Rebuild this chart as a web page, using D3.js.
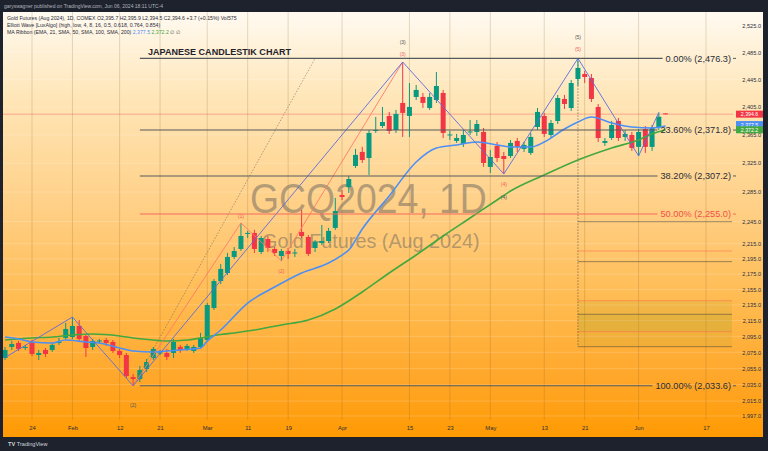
<!DOCTYPE html>
<html><head><meta charset="utf-8">
<script src="https://cdn.jsdelivr.net/npm/d3@7"></script>
<style>
html,body{margin:0;padding:0;background:#1e222d;}
svg{display:block;font-family:"Liberation Sans",Arial,sans-serif;}
</style></head><body>
<svg id="c" width="768" height="451"></svg>
<script>
// ---------- DATA ----------
const candleDates = ["2024-01-18","2024-01-19","2024-01-22","2024-01-23","2024-01-24","2024-01-25","2024-01-26","2024-01-29","2024-01-30","2024-01-31",
"2024-02-01","2024-02-02","2024-02-05","2024-02-06","2024-02-07","2024-02-08","2024-02-09","2024-02-12","2024-02-13","2024-02-14","2024-02-15","2024-02-16","2024-02-20","2024-02-21","2024-02-22","2024-02-23","2024-02-26","2024-02-27","2024-02-28","2024-02-29",
"2024-03-01","2024-03-04","2024-03-05","2024-03-06","2024-03-07","2024-03-08","2024-03-11","2024-03-12","2024-03-13","2024-03-14","2024-03-15","2024-03-18","2024-03-19","2024-03-20","2024-03-21","2024-03-22","2024-03-25","2024-03-26","2024-03-27","2024-03-28",
"2024-04-01","2024-04-02","2024-04-03","2024-04-04","2024-04-05","2024-04-08","2024-04-09","2024-04-10","2024-04-11","2024-04-12","2024-04-15","2024-04-16","2024-04-17","2024-04-18","2024-04-19","2024-04-22","2024-04-23","2024-04-24","2024-04-25","2024-04-26","2024-04-29","2024-04-30",
"2024-05-01","2024-05-02","2024-05-03","2024-05-06","2024-05-07","2024-05-08","2024-05-09","2024-05-10","2024-05-13","2024-05-14","2024-05-15","2024-05-16","2024-05-17","2024-05-20","2024-05-21","2024-05-22","2024-05-23","2024-05-24","2024-05-28","2024-05-29","2024-05-30","2024-05-31",
"2024-06-03","2024-06-04","2024-06-05","2024-06-06","2024-06-07"];
const openP = [2067.9,2081.7,2086.7,2080.4,2086.7,2071.6,2077.9,2077.9,2086.7,2093.0,
2094.2,2108.1,2095.5,2081.7,2088.5,2090.4,2087.9,2076.7,2071.6,2044.4,2041.9,2054.3,2067.9,2073.5,2074.2,2074.2,2081.7,2079.2,2076.7,2081.7,
2090.4,2131.1,2165.9,2176.4,2197.5,2208.1,2228.1,2229.5,2204.1,2221.3,2208.1,2198.8,2205.4,2202.1,2230.8,2224.0,2209.4,2216.0,2218.7,2236.2,
2280.9,2291.8,2321.1,2340.8,2332.3,2370.5,2377.6,2392.0,2371.9,2410.8,2392.0,2419.5,2419.5,2403.5,2415.1,2425.3,2364.1,2356.3,2352.1,2368.4,2369.1,2369.1,
2319.8,2349.2,2335.1,2335.1,2356.3,2345.0,2339.4,2376.2,2392.0,2364.8,2384.8,2416.6,2403.5,2445.8,2453.1,2447.2,2405.0,2353.5,2360.5,2384.8,2362.0,2364.8,
2347.9,2373.3,2347.9,2375.5,2395.7];
const highP = [2081.7,2089.2,2089.2,2084.2,2090.4,2077.9,2080.4,2086.7,2093.0,2111.9,
2119.5,2115.7,2098.0,2091.7,2091.7,2093.0,2090.4,2079.2,2074.2,2048.1,2058.0,2066.7,2081.7,2077.9,2079.2,2091.7,2084.2,2085.4,2084.2,2099.3,
2137.5,2168.5,2188.2,2202.8,2210.7,2242.9,2232.2,2233.5,2225.4,2225.4,2210.7,2208.1,2209.4,2208.1,2260.5,2226.7,2220.0,2240.2,2236.2,2276.9,
2287.9,2307.2,2345.0,2347.9,2371.9,2390.5,2405.0,2397.8,2400.7,2470.9,2439.9,2437.0,2425.3,2425.3,2456.1,2429.7,2370.5,2366.3,2371.9,2386.2,2386.2,2374.8,
2343.6,2354.9,2340.8,2357.7,2360.5,2354.9,2367.7,2403.5,2396.4,2386.2,2422.4,2422.4,2444.3,2476.3,2457.6,2453.1,2409.3,2360.5,2384.8,2389.1,2371.9,2369.1,
2373.3,2377.6,2379.0,2397.0,2395.9];
const lowP = [2065.4,2077.9,2076.7,2077.9,2070.4,2065.4,2069.2,2075.4,2084.2,2090.4,
2091.7,2087.9,2069.2,2077.9,2085.4,2082.9,2074.2,2067.9,2043.2,2033.6,2038.3,2050.6,2065.4,2071.6,2065.4,2067.9,2074.2,2076.7,2074.2,2079.2,
2089.2,2128.5,2162.0,2173.8,2194.8,2205.4,2222.7,2202.8,2201.5,2204.1,2198.8,2192.2,2194.8,2197.5,2222.7,2198.8,2204.1,2213.4,2216.0,2233.5,
2274.1,2283.7,2318.4,2325.3,2308.6,2367.7,2374.8,2366.3,2367.7,2362.0,2362.0,2415.1,2403.5,2400.7,2410.8,2360.5,2357.7,2353.5,2347.9,2364.8,2363.4,2319.8,
2311.4,2326.7,2310.0,2332.3,2340.8,2340.8,2336.6,2371.9,2362.0,2360.5,2380.5,2402.1,2399.2,2435.5,2439.9,2412.2,2354.9,2349.2,2357.7,2356.3,2356.3,2342.2,
2335.1,2339.4,2342.2,2371.9,2394.5];
const closeP = [2077.9,2085.4,2079.2,2081.7,2072.9,2074.2,2072.9,2084.2,2087.9,2104.3,
2108.1,2091.7,2080.4,2089.2,2089.8,2086.7,2076.7,2071.6,2045.6,2041.9,2053.0,2062.9,2079.2,2074.8,2069.2,2087.9,2077.9,2082.9,2081.7,2093.0,
2134.9,2165.9,2181.7,2197.5,2205.4,2225.4,2229.5,2208.1,2222.7,2209.4,2202.8,2205.4,2201.5,2203.4,2225.4,2201.5,2217.4,2218.7,2232.2,2259.1,
2278.2,2303.0,2336.6,2329.5,2367.7,2371.9,2383.3,2370.5,2394.9,2396.4,2405.0,2429.7,2410.8,2419.5,2435.5,2367.7,2365.5,2360.5,2364.8,2369.8,2380.5,2325.3,
2333.7,2332.3,2330.9,2353.5,2347.9,2350.7,2362.0,2397.8,2366.3,2381.9,2418.0,2409.3,2439.9,2462.1,2448.7,2416.6,2360.5,2356.3,2379.0,2360.5,2366.3,2346.4,
2369.1,2347.9,2374.8,2390.9,2394.6];
const futureDates = ["2024-06-10","2024-06-11","2024-06-12","2024-06-13","2024-06-14","2024-06-17","2024-06-18","2024-06-19","2024-06-20","2024-06-21","2024-06-24","2024-06-25"];

const emaDates = ["2024-01-18","2024-01-22","2024-01-24","2024-01-29","2024-01-31","2024-02-05","2024-02-07","2024-02-12","2024-02-14","2024-02-20","2024-02-22","2024-02-26","2024-02-29","2024-03-01","2024-03-05","2024-03-11","2024-03-15","2024-03-21","2024-03-27","2024-04-01","2024-04-02","2024-04-04","2024-04-10","2024-04-16","2024-04-19","2024-04-24","2024-04-29","2024-05-02","2024-05-06","2024-05-09","2024-05-13","2024-05-16","2024-05-20","2024-05-22","2024-05-28","2024-05-31","2024-06-05","2024-06-07"];
const emaValues = [2094.2,2091.7,2087.9,2086.6,2090.4,2087.9,2086.6,2080.4,2076.6,2075.4,2076.6,2077.9,2080.4,2089.0,2103.0,2137.4,2158.1,2176.4,2189.5,2200.0,2206.7,2234.8,2279.6,2326.7,2346.3,2350.6,2354.8,2350.6,2347.7,2347.7,2354.8,2373.3,2383.3,2390.5,2381.9,2376.2,2374.8,2377.5];

const smaDates = ["2024-01-18","2024-01-24","2024-01-29","2024-02-01","2024-02-06","2024-02-12","2024-02-14","2024-02-20","2024-02-22","2024-02-27","2024-02-29","2024-03-05","2024-03-07","2024-03-12","2024-03-18","2024-03-22","2024-03-28","2024-04-04","2024-04-10","2024-04-16","2024-04-22","2024-04-26","2024-05-02","2024-05-06","2024-05-13","2024-05-20","2024-05-28","2024-06-03","2024-06-05","2024-06-07"];
const smaValues = [2090.4,2093.0,2094.2,2096.7,2098.0,2095.5,2093.0,2090.4,2089.2,2090.4,2093.0,2097.4,2099.3,2103.0,2109.4,2115.7,2129.8,2151.7,2176.4,2200.1,2225.4,2249.6,2274.1,2286.4,2308.6,2329.5,2346.4,2357.7,2366.3,2372.2];

const priceTicks = [2525,2485,2445,2405,2365,2325,2285,2245,2215,2195,2175,2155,2135,2115,2095,2075,2055,2035,2015,1997];
const dateTicks = ["2024-01-24","2024-02-01","2024-02-12","2024-02-21","2024-03-01","2024-03-11","2024-03-19","2024-04-01","2024-04-15","2024-04-23","2024-05-01","2024-05-13","2024-05-21","2024-06-03","2024-06-17"];
const dateTickLabels = ["24","Feb","12","21","Mar","11","19","Apr","15","23","May","13","21","Jun","17"];

const fibNames = ["0.00%","23.60%","38.20%","50.00%","100.00%"];
const fibPrices = [2476.3,2371.8,2307.2,2255.0,2033.6];
const fibStartDate = "2024-02-15";

const targetStartDate = "2024-05-20";
const targetDarkLevels = [2244.6,2191.3,2123.0,2082.0];
const targetRedLevels = [2205.4,2140.4,2100.9];
const targetBoxes = [[2140.4,2100.9],[2123.0,2082.0]];

const waveMajorDates = ["2024-01-18","2024-02-01","2024-02-14","2024-04-12","2024-05-03","2024-05-20","2024-06-03","2024-06-06"];
const waveMajorPrices = [2068.5,2119.5,2033.6,2470.9,2310.0,2476.3,2335.1,2397.0];
const waveMinorDates = ["2024-02-14","2024-03-08","2024-03-18","2024-04-12"];
const waveMinorPrices = [2033.6,2242.9,2192.2,2470.9];
const waveProjDates = ["2024-02-14","2024-03-25"];
const waveProjPrices = [2033.6,2476.3];

const waveLabelText = ["(3)","(3)","(5)","(5)","(1)","(2)","(4)","(4)","(2)"];
const waveLabelDates = ["2024-04-12","2024-04-12","2024-05-20","2024-05-20","2024-03-08","2024-03-18","2024-05-03","2024-05-03","2024-02-14"];
const waveLabelPrices = [2470.9,2470.9,2476.3,2476.3,2242.9,2192.2,2310.0,2310.0,2033.6];
const waveLabelKind = ["dark","red","dark","red","red","red","red","dark","dark"];
const waveLabelOffset = [-20,-8,-21,-9,-7,10,10,23,19];

const lastPrice = 2394.6;
const emaLast = 2377.5, smaLast = 2372.2;

// ---------- SCALES ----------
const svg = d3.select("#c");
const W = 768, H = 451;
const plot = {left:3, right:733, top:12, bottom:420};
const allDates = candleDates.concat(futureDates);
const step = 6.74, x0 = 5.04;
const x = d3.scalePoint().domain(allDates).range([x0, x0 + step*(allDates.length-1)]);
const y = d3.scaleLog().domain([1997, 2525]).range([416, 26]);
const fmt = d3.format(",.1f");

// ---------- BACKGROUND ----------
const defs = svg.append("defs");
const grad = defs.append("linearGradient").attr("id","bg").attr("x1",0).attr("y1",0).attr("x2",0).attr("y2",1);
[[0,"#fffaf1"],[0.2,"#ffe6b8"],[0.49,"#ffcd80"],[0.68,"#ffbb50"],[0.87,"#ffa628"],[1,"#ff9a02"]]
  .forEach(s=>grad.append("stop").attr("offset",s[0]).attr("stop-color",s[1]));
defs.append("clipPath").attr("id","clip").append("rect")
  .attr("x",plot.left).attr("y",plot.top).attr("width",plot.right-plot.left).attr("height",plot.bottom-plot.top);

svg.append("rect").attr("width",W).attr("height",H).attr("fill","#1e222d");
svg.append("rect").attr("x",3).attr("y",12).attr("width",760).attr("height",425).attr("fill","url(#bg)");

// header
svg.append("text").attr("x",4).attr("y",8).attr("font-size",5.0).attr("fill","#b2b5be")
  .text("garyswagner published on TradingView.com, Jun 06, 2024 18:11 UTC-4");
// footer
const ft = svg.append("text").attr("x",8).attr("y",446).attr("font-size",5.6).attr("fill","#d1d4dc");
ft.append("tspan").attr("font-weight","bold").text("TV ");
ft.append("tspan").text("TradingView");

// grid
const grid = svg.append("g");
grid.selectAll("line.h").data(priceTicks).join("line")
  .attr("x1",plot.left).attr("x2",763).attr("y1",d=>y(d)).attr("y2",d=>y(d))
  .attr("stroke","rgba(255,255,255,0.18)").attr("stroke-width",1);
grid.selectAll("line.v").data(dateTicks).join("line")
  .attr("x1",d=>x(d)).attr("x2",d=>x(d)).attr("y1",plot.top).attr("y2",plot.bottom)
  .attr("stroke","rgba(120,85,30,0.2)").attr("stroke-width",1);

// watermark
svg.append("g").attr("transform","translate(250,213) scale(0.89,1)")
  .append("text").attr("x",0).attr("y",0).attr("font-size",42)
  .attr("fill","rgba(105,100,95,0.5)").text("GCQ2024, 1D");
svg.append("text").attr("x",262).attr("y",248).attr("font-size",19.8)
  .attr("fill","rgba(105,100,95,0.5)").text("Gold Futures (Aug 2024)");

const g = svg.append("g").attr("clip-path","url(#clip)");

// last price line
g.append("line").attr("x1",plot.left).attr("x2",plot.right).attr("y1",y(lastPrice)).attr("y2",y(lastPrice))
  .attr("stroke","rgba(242,54,69,0.35)").attr("stroke-width",1);

// target boxes
const tx1 = x(targetStartDate), tx2 = 732;
g.selectAll("rect.tb").data(targetBoxes).join("rect")
  .attr("x",tx1).attr("width",tx2-tx1).attr("y",d=>y(d[0])).attr("height",d=>y(d[1])-y(d[0]))
  .attr("fill","rgba(165,165,45,0.16)");
g.selectAll("line.td").data(targetDarkLevels).join("line")
  .attr("x1",tx1).attr("x2",tx2).attr("y1",d=>y(d)).attr("y2",d=>y(d))
  .attr("stroke","rgba(90,80,60,0.6)").attr("stroke-width",1);
g.selectAll("line.tr").data(targetRedLevels).join("line")
  .attr("x1",tx1).attr("x2",tx2).attr("y1",d=>y(d)).attr("y2",d=>y(d))
  .attr("stroke","rgba(255,110,80,0.55)").attr("stroke-width",1);
g.append("line").attr("x1",tx1).attr("x2",tx1).attr("y1",y(fibPrices[0])).attr("y2",y(targetDarkLevels[3]))
  .attr("stroke","rgba(80,70,60,0.75)").attr("stroke-width",0.8).attr("stroke-dasharray","1.5,1.5");

// fib levels (lines; labels later)
const fibG = svg.append("g");
const fibLabels = fibNames.map((n,i)=>`${n} (${fmt(fibPrices[i])})`);

// candles
const candles = g.append("g");
const cw = 5;
candleDates.forEach((d,i)=>{
  const up = closeP[i] >= openP[i];
  const col = up ? "#089981" : "#f23645";
  const cx = x(d);
  candles.append("line").attr("x1",cx).attr("x2",cx).attr("y1",y(highP[i])).attr("y2",y(lowP[i]))
    .attr("stroke",col).attr("stroke-width",1);
  const yt = y(Math.max(openP[i],closeP[i])), yb = y(Math.min(openP[i],closeP[i]));
  candles.append("rect").attr("x",cx-cw/2).attr("y",yt).attr("width",cw).attr("height",Math.max(1,yb-yt)).attr("fill",col);
});

// MA lines
const lineGen = (dates, vals) => d3.line().x((v,i)=>x(dates[i])).y(v=>y(v)).curve(d3.curveMonotoneX)(vals);
g.append("path").attr("d",lineGen(smaDates,smaValues)).attr("fill","none").attr("stroke","#43a83f").attr("stroke-width",1.6);
g.append("path").attr("d",lineGen(emaDates,emaValues)).attr("fill","none").attr("stroke","#4c8ff5").attr("stroke-width",1.6);

// waves
const straight = (dates, vals) => d3.line().x((v,i)=>x(dates[i])).y(v=>y(v))(vals);
g.append("path").attr("d",straight(waveProjDates,waveProjPrices)).attr("fill","none").attr("stroke","rgba(110,100,90,0.7)").attr("stroke-width",0.8).attr("stroke-dasharray","1.5,1.5");
g.append("path").attr("d",straight(waveMinorDates,waveMinorPrices)).attr("fill","none").attr("stroke","#ff7a66").attr("stroke-width",0.9);
g.append("path").attr("d",straight(waveMajorDates,waveMajorPrices)).attr("fill","none").attr("stroke","#5a6be0").attr("stroke-width",0.9);

// wave labels
g.selectAll("text.wl").data(waveLabelText).join("text")
  .attr("x",(d,i)=>x(waveLabelDates[i])).attr("y",(d,i)=>y(waveLabelPrices[i])+waveLabelOffset[i]+1.8)
  .attr("text-anchor","middle").attr("font-size",5).attr("fill",(d,i)=>waveLabelKind[i]==="red"?"#f0605a":"#555")
  .text(d=>d);

// fib lines + labels
fibPrices.forEach((p,i)=>{
  const isRed = fibNames[i]==="50.00%";
  const col = isRed ? "#f56a5e" : "#555a5e";
  const t = fibG.append("text").attr("x",731).attr("y",y(p)+3.2).attr("text-anchor","end")
    .attr("font-size",9.2).attr("fill",isRed?"#f0514a":"#2a2e39").text(fibLabels[i]);
  const tw = t.node().getComputedTextLength();
  fibG.insert("line","text").attr("x1",x(fibStartDate)).attr("x2",731-tw-3).attr("y1",y(p)).attr("y2",y(p))
    .attr("stroke",col).attr("stroke-width",1.1);
  fibG.append("line").attr("x1",733).attr("x2",736).attr("y1",y(p)).attr("y2",y(p)).attr("stroke",col).attr("stroke-width",1);
});

// title
svg.append("text").attr("x",148).attr("y",55).attr("font-size",9.6).attr("font-weight","bold")
  .attr("textLength",143).attr("lengthAdjust","spacingAndGlyphs").attr("fill","#1f2229").text("JAPANESE CANDLESTIK CHART");

// legend
const lg = svg.append("g").attr("font-size",5.2).attr("fill","#2a2e39");
lg.append("text").attr("x",7).attr("y",19.5).text("Gold Futures (Aug 2024), 1D, COMEX  O2,395.7 H2,395.9 L2,394.5 C2,394.6 +3.7 (+0.15%) Vol575");
lg.append("text").attr("x",7).attr("y",26.5).text("Elliott Wave [LuxAlgo] (high, low, 4, 8, 16, 0.5, 0.618, 0.764, 0.854)");
const l3 = lg.append("text").attr("x",7).attr("y",33.5);
l3.append("tspan").text("MA Ribbon (EMA, 21, SMA, 50, SMA, 100, SMA, 200) ");
l3.append("tspan").attr("fill","#4c8ff5").text(fmt(emaLast));
l3.append("tspan").text(" ");
l3.append("tspan").attr("fill","#43a83f").text(fmt(smaLast));
l3.append("tspan").attr("fill","#555").text(" \u2205 \u2205");

// right price axis
const yAxis = d3.axisLeft(y).tickValues(priceTicks).tickFormat(fmt).tickSize(0).tickPadding(1);
const ya = svg.append("g").attr("transform","translate(762,0)").call(yAxis);
ya.select(".domain").remove();
ya.selectAll("text").attr("font-size",5.6).attr("fill","#2a2e39").attr("font-family","Liberation Sans, Arial, sans-serif");

// bottom date axis
const xAxis = d3.axisBottom(x).tickValues(dateTicks).tickFormat((d,i)=>dateTickLabels[i]).tickSize(0).tickPadding(6);
const xa = svg.append("g").attr("transform",`translate(0,${plot.bottom})`).call(xAxis);
xa.select(".domain").remove();
xa.selectAll("text").attr("font-size",5.8).attr("fill","#2a2e39").attr("font-family","Liberation Sans, Arial, sans-serif");

// price labels (blue sits partly under green, as in the reference)
const tags = [[emaLast,"#4c8ff5",-1.5],[smaLast,"#43a83f",0],[lastPrice,"#f23645",0]];
tags.forEach(([v,c,dy])=>{
  svg.append("rect").attr("x",736).attr("y",y(v)-3.5+dy).attr("width",27).attr("height",7).attr("fill",c);
  svg.append("text").attr("x",749.5).attr("y",y(v)+2+dy).attr("text-anchor","middle").attr("font-size",5.2)
    .attr("fill","#fff").text(fmt(v));
});
</script>
</body></html>
